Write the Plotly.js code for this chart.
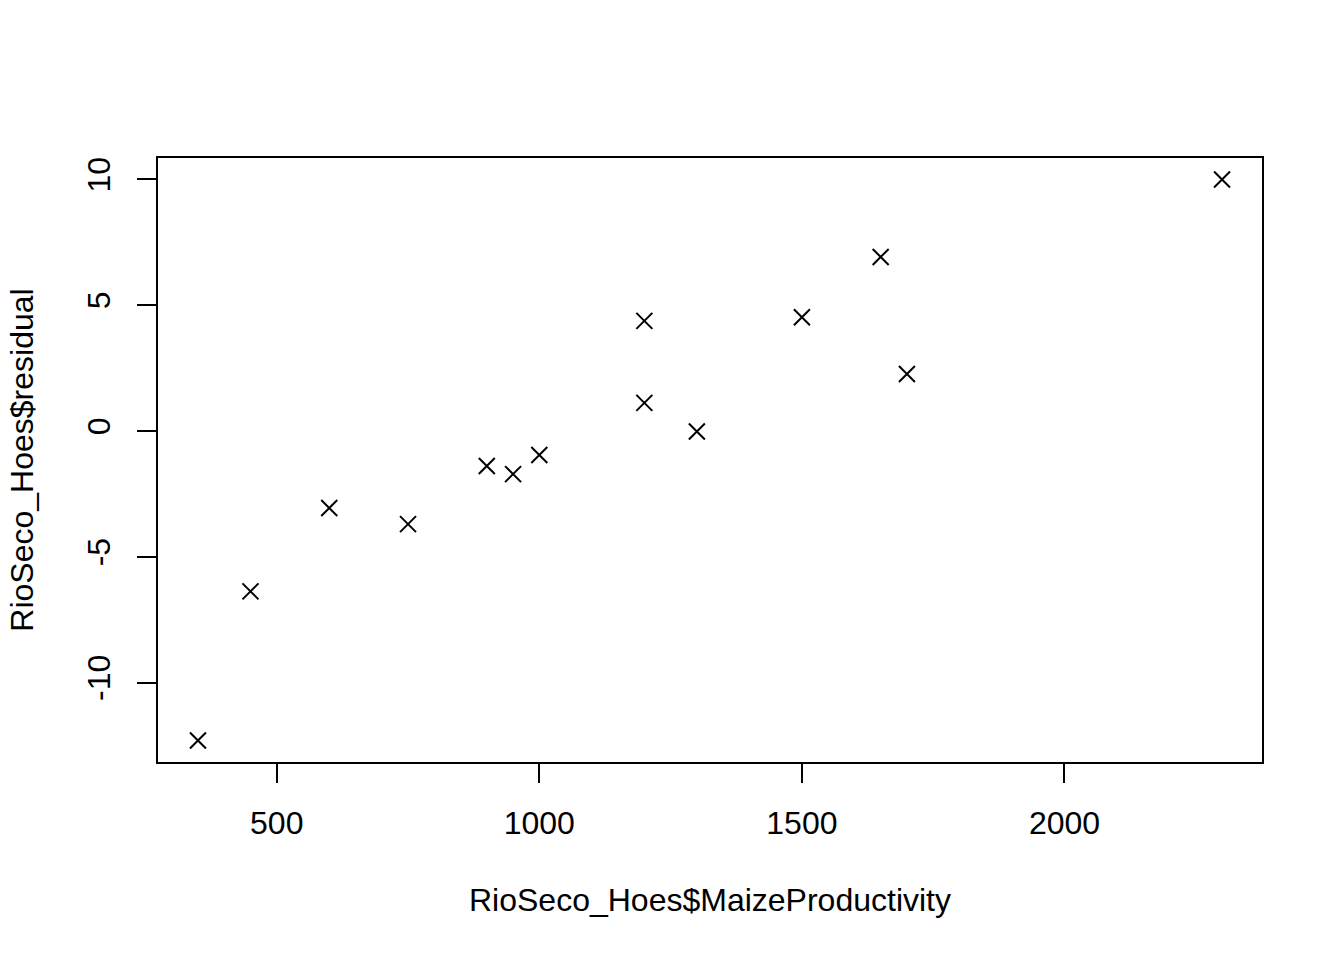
<!DOCTYPE html>
<html>
<head>
<meta charset="utf-8">
<script src="https://cdn.plot.ly/plotly-3.0.1.min.js"></script>
<style>html,body{margin:0;padding:0;background:#fff;}#plot{width:1344px;height:960px;}</style>
</head>
<body>
<div id="plot"></div>
<script>
// Data
const maizeProductivity = [350, 450, 600, 750, 900, 950, 1000, 1200, 1200, 1300, 1500, 1650, 1700, 2300];
const residual = [-12.3, -6.37, -3.06, -3.70, -1.39, -1.71, -0.95, 4.38, 1.12, -0.02, 4.52, 6.92, 2.27, 10.0];
const xTicks = [500, 1000, 1500, 2000];
const yTicks = [-10, -5, 0, 5, 10];
const xTitle = "RioSeco_Hoes$MaizeProductivity";
const yTitle = "RioSeco_Hoes$residual";

// R-style 4% axis expansion
function expand(arr) {
  const mn = Math.min(...arr), mx = Math.max(...arr);
  const d = (mx - mn) * 0.04;
  return [mn - d, mx + d];
}

const font = {family: "Liberation Sans, Arial, sans-serif", size: 32, color: "#000"};

const trace = {
  x: maizeProductivity,
  y: residual,
  type: "scatter",
  mode: "markers",
  marker: {symbol: "x-thin-open", size: 16, color: "#000", line: {color: "#000", width: 2}},
  hoverinfo: "x+y"
};

const layout = {
  width: 1344, height: 960,
  margin: {l: 157, r: 81, t: 157, b: 197},
  paper_bgcolor: "#fff", plot_bgcolor: "#fff",
  showlegend: false,
  font: font,
  xaxis: {
    range: expand(maizeProductivity),
    tickmode: "array", tickvals: xTicks, ticktext: xTicks.map(String),
    ticks: "outside", ticklen: 19, tickwidth: 2, tickcolor: "#000",
    showgrid: false, zeroline: false, showline: false,
    ticklabelstandoff: 13,
    tickfont: font,
    title: {text: xTitle, font: font, standoff: 48},
    automargin: false
  },
  yaxis: {
    range: expand(residual),
    tickmode: "array", tickvals: yTicks, ticktext: yTicks.map(String),
    ticks: "outside", ticklen: 19, tickwidth: 2, tickcolor: "#000",
    tickangle: -90,
    showgrid: false, zeroline: false, showline: false,
    ticklabelstandoff: 14,
    tickfont: font,
    title: {text: yTitle, font: font, standoff: 38},
    automargin: false
  },
  shapes: [{
    type: "rect", xref: "paper", yref: "paper", x0: 0, x1: 1, y0: 0, y1: 1,
    line: {color: "#000", width: 2}, fillcolor: "rgba(0,0,0,0)", layer: "above"
  }]
};

Plotly.newPlot("plot", [trace], layout, {displayModeBar: false, staticPlot: false});
</script>
</body>
</html>
